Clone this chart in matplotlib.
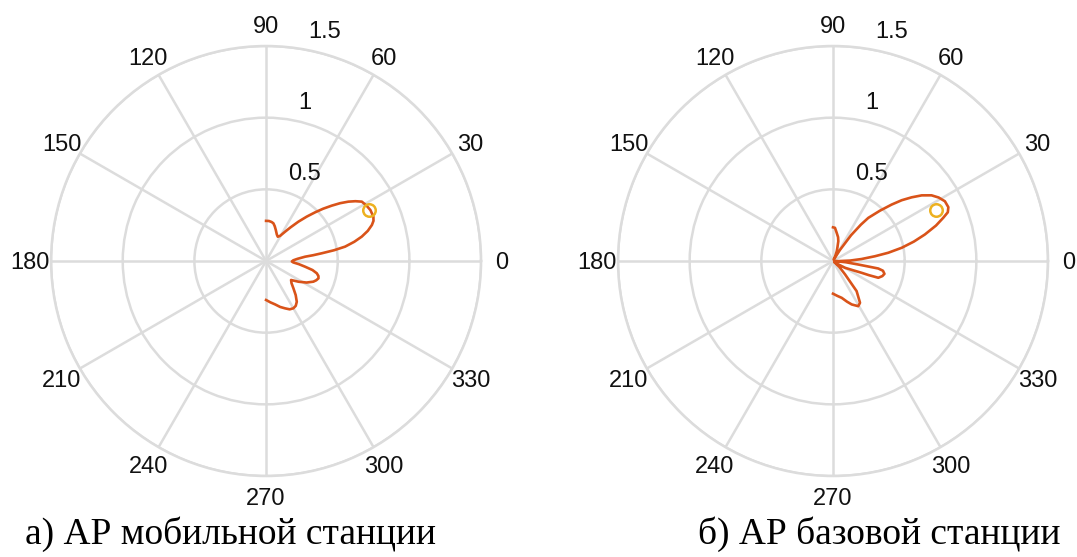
import numpy as np
import matplotlib.pyplot as plt

plt.rcParams['font.family'] = ['Liberation Sans', 'DejaVu Sans']

# Array pattern of the mobile station: angle (deg) and normalised amplitude
mobile_deg = [90, 86, 82, 79, 76, 72.6, 68, 64.3, 61, 57, 54, 50.6, 47.5, 44.8,
              42.5, 40.1, 38, 35.8, 33.8, 31.8, 29, 26, 22.4, 20.5, 18.8, 16.5,
              14.3, 12.3, 10.3, 9, 7.9, 7, 6.3, 4, 1.5, -1, -3, -5.5, -8.3, -11,
              -13.6, -16, -18.3, -21, -23.6, -28, -32.6, -37.2, -41, -45, -49,
              -53, -56.5, -60, -64, -68.1, -73, -78.3, -84, -90]
mobile_amp = [0.28, 0.28, 0.275, 0.268, 0.25, 0.227, 0.20, 0.188, 0.20, 0.244,
              0.29, 0.355, 0.42, 0.482, 0.54, 0.60, 0.655, 0.708, 0.75, 0.786,
              0.80, 0.81, 0.81, 0.80, 0.78, 0.74, 0.689, 0.63, 0.56, 0.48, 0.392,
              0.33, 0.274, 0.22, 0.19, 0.18, 0.19, 0.23, 0.275, 0.33, 0.364,
              0.38, 0.385, 0.375, 0.36, 0.32, 0.268, 0.219, 0.235, 0.27, 0.315,
              0.356, 0.375, 0.381, 0.375, 0.356, 0.335, 0.309, 0.29, 0.272]

# Array pattern of the base station
base_deg = [90, 86.6, 82.5, 78, 75, 72, 69, 66, 62, 58, 55, 52.5, 50.7, 47,
            43.9, 41.5, 39, 36.5, 33.7, 31, 28.1, 25, 23, 21.4, 19, 16.1, 13.5,
            10.9, 8.5, 6.5, 4, 1.5, -1, -3, -5.5, -7.9, -9.4, -11, -14, -17,
            -20.3, -21.5, -22.4, -25, -29.5, -34, -38, -43, -48, -51.9, -57.1,
            -60.8, -66.7, -71, -76.7, -83, -90]
base_amp = [0.235, 0.232, 0.198, 0.17, 0.143, 0.10, 0.073, 0.04, 0.01, 0.09,
            0.22, 0.32, 0.389, 0.48, 0.568, 0.64, 0.706, 0.77, 0.826, 0.86,
            0.885, 0.888, 0.87, 0.826, 0.76, 0.667, 0.58, 0.488, 0.39, 0.295,
            0.20, 0.12, 0.04, 0.02, 0.09, 0.178, 0.32, 0.355, 0.37, 0.36, 0.337,
            0.27, 0.216, 0.15, 0.096, 0.04, 0.01, 0.06, 0.126, 0.267, 0.347,
            0.361, 0.33, 0.30, 0.264, 0.245, 0.228]

# Direction of the wanted signal
target_deg = 26.5
target_amp = 0.80

theta_ticks = list(range(0, 360, 30))
r_ticks = [0.5, 1.0, 1.5]
r_labels = ['0.5', '1', '1.5']

captions = ['а) АР мобильной станции', 'б) АР базовой станции']
caption_x = [0.214, 0.816]

GRID = '#dcdcdc'
LINE = '#D95319'
MARK = '#EDB120'
TEXT = '#111111'


def draw_pattern(ax, deg, amp):
    ax.plot(np.deg2rad(deg), amp, color=LINE, lw=1.9, zorder=3)
    ax.plot(np.deg2rad(target_deg), target_amp, 'o', mfc='none', mec=MARK,
            ms=9, mew=1.8, zorder=4)
    ax.set_rlim(0, 1.5)
    ax.set_thetagrids(theta_ticks, labels=[])
    ax.set_rgrids(r_ticks, labels=[])
    ax.grid(True, color=GRID, lw=1.8)
    ax.spines['polar'].set_color(GRID)
    ax.spines['polar'].set_linewidth(1.8)
    ax.tick_params(length=0)

    # angle labels centred on a ring just outside the outer circle
    for t in theta_ticks:
        a = np.deg2rad(t)
        ax.annotate(str(t), xy=(a, 1.5),
                    xytext=(21 * np.cos(a), 21 * np.sin(a) - 8),
                    textcoords='offset pixels', ha='center', va='baseline',
                    fontsize=17, color=TEXT, annotation_clip=False)

    for r, lab in zip(r_ticks, r_labels):
        ax.annotate(lab, xy=(np.deg2rad(82), r), xytext=(12, 10),
                    textcoords='offset pixels', ha='left', va='baseline',
                    fontsize=17, color=TEXT, annotation_clip=False,
                    zorder=5)


fig = plt.figure(figsize=(10.77, 5.57), dpi=100)
ax1 = fig.add_axes([0.0474, 0.1454, 0.3993, 0.772], projection='polar')
ax2 = fig.add_axes([0.5738, 0.1454, 0.3993, 0.772], projection='polar')

draw_pattern(ax1, mobile_deg, mobile_amp)
draw_pattern(ax2, base_deg, base_amp)

for x, text in zip(caption_x, captions):
    fig.text(x, 0.0233, text, ha='center', va='baseline', fontsize=27,
             family=['Liberation Serif', 'DejaVu Serif'], color='black')

fig.savefig('out.png', dpi=100, facecolor='white')
